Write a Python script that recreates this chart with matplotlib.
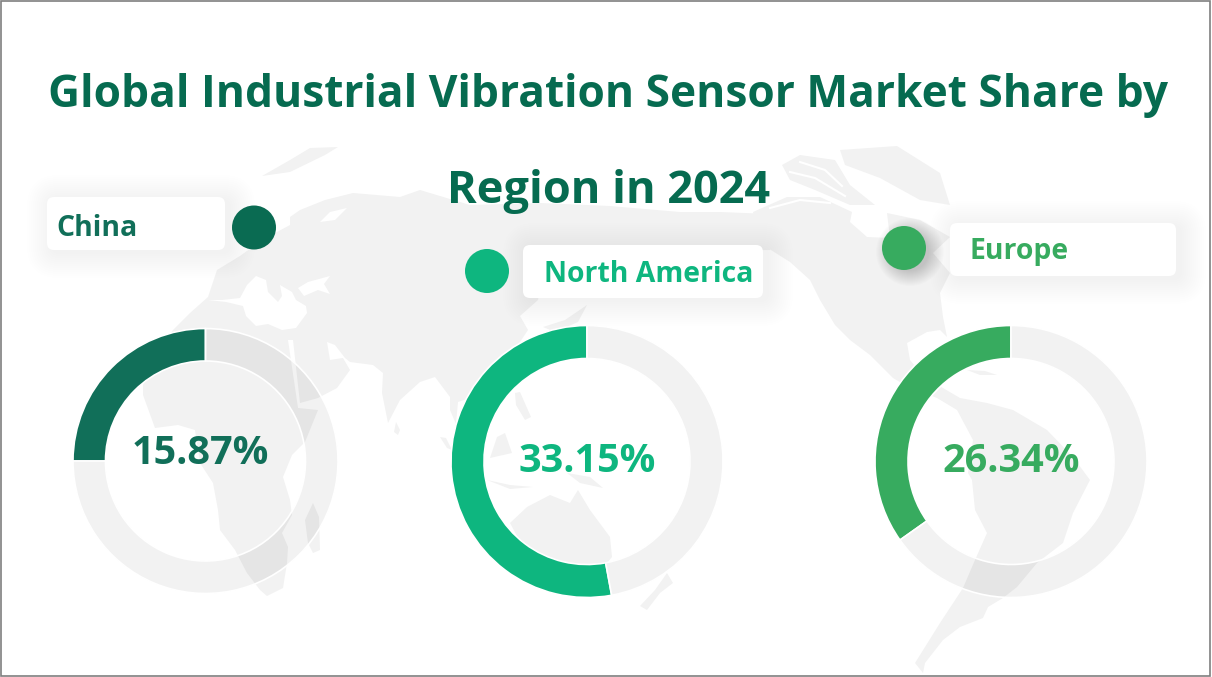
import matplotlib
matplotlib.use('Agg')
import matplotlib.pyplot as plt
from matplotlib.patches import FancyBboxPatch, Circle, Rectangle

W, H = 1212, 677

regions = ['China', 'North America', 'Europe']
share_labels = ['15.87%', '33.15%', '26.34%']
# the drawn arcs do not follow the printed numbers in the source chart
arc_share = [25.0, 52.9, 34.8]
colors = ['#116f59', '#0eb67f', '#37ab5f']
dot_colors = ['#0a6b52', '#0eb67f', '#37ab5f']
title_color = '#066b50'

# ring centre x, centre y, outer radius, inner radius (pixels)
rings = [(205.5, 461, 132.5, 100), (587, 461.5, 136, 103), (1011, 461.5, 136, 103)]
pct_pos = [(200.5, 451), (587, 458), (1011, 458)]
cards = [(47, 197, 178, 53), (523, 245, 240, 53), (950, 223, 226, 53)]
label_pos = [(56, 226), (544, 272), (970, 250)]
dots = [(254, 227.5), (487, 271), (904, 248)]

# background world map outlines, pixel coordinates
afro_eurasia = [
    (290, 217), (300, 210), (325, 200), (353, 193), (400, 197), (420, 190), (470, 205), (540, 203),
    (610, 206), (680, 212), (720, 212), (770, 214), (770, 250), (600, 252), (545, 262), (538, 300),
    (520, 316), (528, 330), (516, 348), (505, 372), (488, 392), (480, 420), (470, 398), (458, 402),
    (456, 424), (450, 410), (450, 397), (435, 377), (420, 382), (400, 400), (388, 423), (382, 393),
    (383, 373), (373, 365), (350, 362), (345, 358), (335, 345), (327, 342), (330, 360), (343, 358),
    (350, 370), (337, 388), (318, 398), (300, 403), (293, 340), (288, 340), (298, 408), (318, 410),
    (305, 442), (292, 455), (283, 477), (290, 500), (292, 515), (282, 533), (288, 547), (287, 563),
    (283, 588), (267, 596), (260, 590), (247, 573), (235, 550), (220, 530), (218, 510), (213, 483),
    (200, 463), (195, 430), (178, 425), (155, 428), (143, 395), (143, 385), (155, 355), (173, 330),
    (190, 313), (208, 297), (217, 270), (240, 256), (262, 240), (290, 225),
]
mediterranean = [(208, 300), (222, 300), (240, 298), (247, 285), (256, 276), (266, 280), (268, 292),
                 (278, 302), (282, 296), (280, 285), (292, 292), (296, 300), (306, 306), (307, 313),
                 (296, 328), (282, 330), (268, 324), (256, 326), (246, 316), (243, 306), (226, 302)]
black_sea = [(298, 288), (308, 282), (330, 276), (324, 284), (330, 294), (318, 290), (304, 296)]
baltic = [(320, 222), (330, 212), (347, 208), (335, 220)]
arctic_island = [(262, 176), (290, 160), (310, 148), (338, 147), (325, 155), (290, 172)]
madagascar = [(313, 503), (305, 520), (308, 543), (313, 553), (320, 550), (319, 517)]
sri_lanka = [(396, 422), (400, 430), (398, 435), (394, 432)]
sumatra = [(440, 437), (446, 438), (452, 450), (447, 448)]
borneo = [(497, 437), (505, 433), (512, 453), (490, 458)]
philippines = [(515, 393), (520, 392), (531, 417), (525, 420), (516, 405)]
java = [(487, 480), (510, 485), (533, 487), (510, 489)]
new_guinea = [(567, 473), (590, 477), (603, 488), (580, 483)]
australia = [(510, 523), (527, 507), (550, 495), (570, 503), (578, 490), (590, 510), (610, 537),
             (612, 557), (597, 575), (560, 585), (530, 560)]
new_zealand = [(647, 610), (660, 593), (673, 583), (667, 573), (655, 590), (640, 606)]
japan = [(543, 327), (565, 320), (587, 305), (578, 322), (555, 332)]
north_america = [
    (753, 212), (787, 197), (820, 197), (852, 212), (850, 222), (867, 237), (890, 238), (887, 213),
    (920, 220), (950, 237), (933, 253), (950, 273), (940, 293), (943, 317), (947, 337), (940, 330),
    (927, 332), (907, 343), (910, 360), (925, 378), (943, 388), (960, 398), (987, 403), (1013, 410),
    (1047, 430), (1073, 457), (1090, 480), (1073, 513), (1063, 543), (1037, 563), (1017, 587),
    (1003, 598), (988, 607), (983, 618), (960, 627), (943, 640), (925, 663), (923, 673), (915, 663),
    (940, 623), (963, 588), (975, 560), (987, 533), (975, 510), (972, 480), (968, 473), (973, 440),
    (957, 410), (937, 398), (905, 385), (893, 378), (870, 355), (850, 340), (835, 325), (820, 300),
    (810, 280), (790, 262), (763, 245),
]
greenland = [(840, 150), (897, 146), (940, 173), (950, 205), (920, 200), (880, 178), (845, 165)]
canada_isles = [(782, 165), (800, 155), (835, 160), (850, 185), (875, 205), (850, 205), (815, 190), (790, 180)]
cuba = [(967, 370), (985, 371), (997, 375), (980, 375)]
land = [afro_eurasia, arctic_island, madagascar, sri_lanka, sumatra, borneo, philippines, java,
        new_guinea, australia, new_zealand, japan, north_america, greenland, canada_isles, cuba]
seas = [mediterranean, black_sea, baltic]
# thin white channels through the arctic islands
channels = [[(790, 172), (815, 178), (845, 196)], [(800, 162), (825, 170), (842, 186)], [(770, 208), (800, 200), (830, 203)]]

fig = plt.figure(figsize=(W / 100, H / 100), dpi=100, facecolor='white')
ax = fig.add_axes([0, 0, 1, 1])
ax.set_xlim(0, W)
ax.set_ylim(H, 0)
ax.axis('off')

for shape in land:
    ax.fill(*zip(*shape), color='#f2f2f2', lw=0, zorder=1)
for shape in seas:
    ax.fill(*zip(*shape), color='white', lw=0, zorder=1.1)
for line in channels:
    ax.plot(*zip(*line), color='white', lw=1.5, zorder=1.1)

# one small pie per ring, start at 12 o'clock going counter clockwise
for (cx, cy, r, r_in), share, col in zip(rings, arc_share, colors):
    pad = 1.02
    rax = fig.add_axes([(cx - r * pad) / W, 1 - (cy + r * pad) / H, 2 * r * pad / W, 2 * r * pad / H])
    rax.patch.set_alpha(0)
    rax.pie([share, 100 - share], colors=[col, (0, 0, 0, 0.05)], startangle=90, counterclock=True,
            radius=1, wedgeprops=dict(width=(r - r_in) / r, edgecolor='white', linewidth=1.2))
    rax.set_xlim(-pad, pad)
    rax.set_ylim(-pad, pad)

top = fig.add_axes([0, 0, 1, 1])
top.patch.set_alpha(0)
top.set_xlim(0, W)
top.set_ylim(H, 0)
top.axis('off')

# soft card shadows
for (x, y, w, h) in cards:
    for grow in range(1, 26, 2):
        top.add_patch(FancyBboxPatch((x + 5 - grow, y + 3 - grow), w + 2 * grow, h + 2 * grow,
                                     boxstyle='round,pad=0,rounding_size=%d' % (7 + grow),
                                     fc='black', ec='none', alpha=0.0035, zorder=2))
    top.add_patch(FancyBboxPatch((x, y), w, h, boxstyle='round,pad=0,rounding_size=7',
                                 fc='white', ec='none', zorder=3))

# only the Europe dot has a visible shadow
for grow in range(1, 17):
    top.add_patch(Circle((dots[2][0] + 6, dots[2][1] + 4), 18 + grow, fc='black', ec='none', alpha=0.01, zorder=2))

for name, col, dcol, (lx, ly), (dx, dy) in zip(regions, colors, dot_colors, label_pos, dots):
    top.add_patch(Circle((dx, dy), 22, fc=dcol, ec='none', zorder=4))
    top.text(lx, ly + 2, name, color=col, fontsize=20.4, fontweight='bold', family='Open Sans',
             va='center', ha='left', zorder=5)

for txt, col, (px, py) in zip(share_labels, colors, pct_pos):
    top.text(px, py + 3, txt, color=col, fontsize=28.5, fontweight='bold', family='Open Sans',
             va='center', ha='center', zorder=5)

top.text(608, 96, 'Global Industrial Vibration Sensor Market Share by', color=title_color,
         fontsize=31.9, fontweight='bold', family='Open Sans', va='center', ha='center', zorder=5)
top.text(608.5, 192, 'Region in 2024', color=title_color, fontsize=32.5, fontweight='bold',
         family='Open Sans', va='center', ha='center', zorder=5)

top.add_patch(Rectangle((0.5, 0.5), W - 2.5, H - 2, fc='none', ec='#7f7f7f', lw=1.2, zorder=6))

fig.savefig('out.png', dpi=100)
